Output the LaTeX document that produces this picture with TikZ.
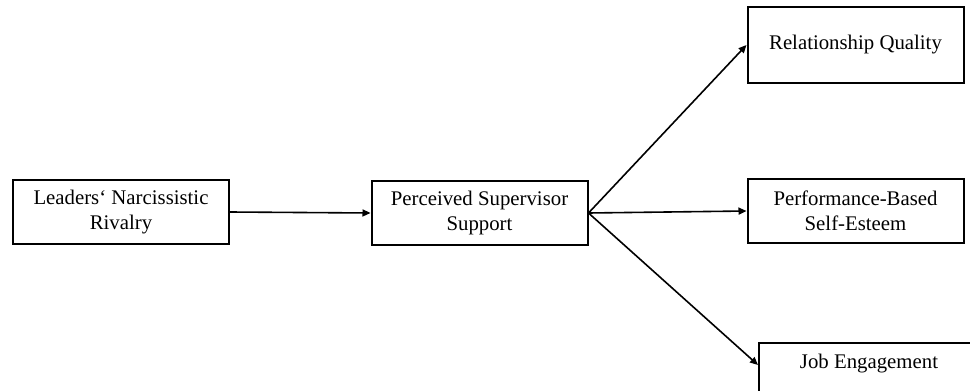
\documentclass[tikz,border=0pt]{standalone}
\usepackage{fontspec}
\setmainfont{Liberation Serif}
\usetikzlibrary{calc}
\usetikzlibrary{arrows.meta}

\begin{document}
\begin{tikzpicture}[x=0.5pt,y=-0.5pt,
        box/.style={draw,line width=1pt,minimum width=108pt,inner sep=0pt,
            align=center,font=\fontsize{10.4}{12.5}\selectfont},
        path/.style={line width=0.8pt,-{Triangle[length=4pt,width=3.5pt]}}]
            % Define the page (one unit is one pixel of the reference)
            \def\W{970} % width
            \def\H{391} % height
            \useasboundingbox (0,0) rectangle (\W,\H);

            % Draw the boxes
            \node[box,minimum height=32pt] (rivalry) at (121,212) {Leaders‘ Narcissistic\\Rivalry};
            \node[box,minimum height=32pt] (support) at (479.5,213) {Perceived Supervisor\\Support};
            \node[box,minimum height=38pt] (quality) at (855.5,45) {Relationship Quality};
            \node[box,minimum height=32pt] (esteem) at (855.5,211) {Performance-Based\\Self-Esteem};
            \node[box,anchor=north west,minimum width=110pt,text height=12.5pt,text depth=40pt] (engagement) at (758,342) {Job Engagement};

            % Draw the paths
            \draw[path] (rivalry.east) -- (support.west);
            \draw[path] (support.east) -- (quality.west);
            \draw[path] (support.east) -- (esteem.west);
            \draw[path] (support.east) -- ($(engagement.north west)+(0,23)$);
        \end{tikzpicture}
\end{document}
